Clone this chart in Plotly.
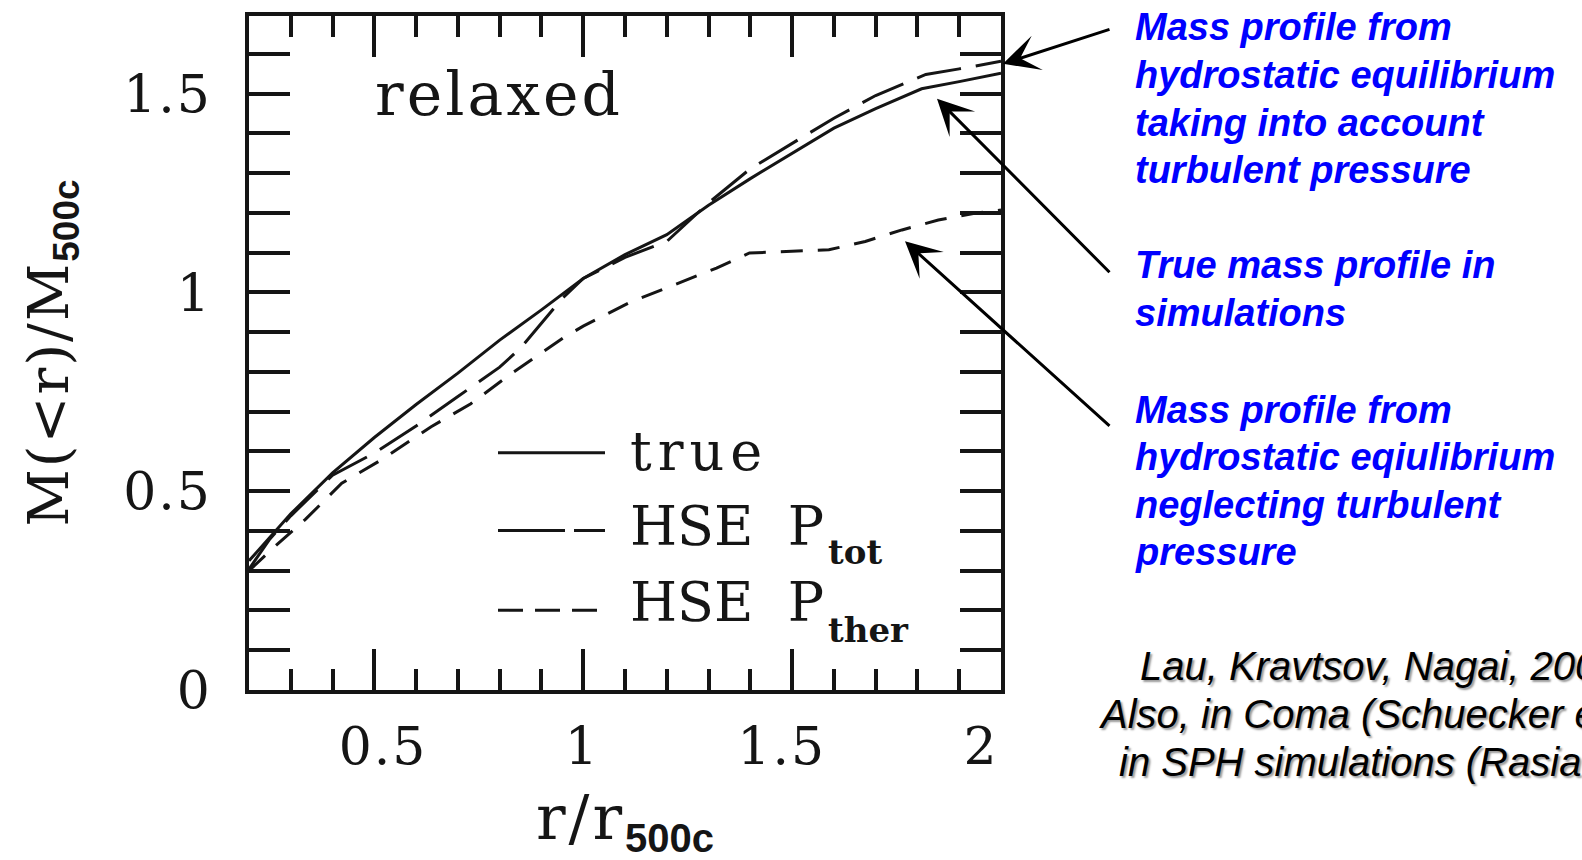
import plotly.graph_objects as go

# ---------------- data ----------------
r_true = [0.2, 0.3, 0.4, 0.5, 0.6, 0.7, 0.8, 0.9, 1.0, 1.1, 1.2, 1.3, 1.4, 1.5, 1.6, 1.7, 1.81, 1.9, 2.0]
m_true = [0.325, 0.443, 0.546, 0.635, 0.718, 0.797, 0.880, 0.956, 1.035, 1.095, 1.145, 1.219, 1.286,
          1.350, 1.413, 1.462, 1.512, 1.530, 1.551]

r_tot = [0.2, 0.25, 0.3, 0.4, 0.5, 0.6, 0.7, 0.8, 0.85, 0.95, 1.0, 1.1, 1.2, 1.27, 1.3, 1.4, 1.5,
         1.6, 1.7, 1.82, 1.9, 2.0]
m_tot = [0.304, 0.380, 0.438, 0.540, 0.596, 0.664, 0.738, 0.812, 0.860, 0.985, 1.035, 1.088, 1.128,
         1.195, 1.225, 1.311, 1.375, 1.438, 1.495, 1.548, 1.562, 1.581]

r_ther = [0.2, 0.263, 0.335, 0.422, 0.517, 0.636, 0.731, 0.827, 0.953, 1.0, 1.112, 1.231, 1.319,
          1.398, 1.493, 1.588, 1.675, 1.763, 1.85, 1.937, 2.0]
m_ther = [0.300, 0.362, 0.429, 0.520, 0.579, 0.662, 0.720, 0.795, 0.886, 0.915, 0.975, 1.024, 1.061,
          1.099, 1.103, 1.107, 1.128, 1.157, 1.182, 1.199, 1.207]

legend_labels = ["true", "HSE  P", "HSE  P"]
legend_subs = ["", "tot", "ther"]
x_ticklabels = ["0.5", "1", "1.5", "2"]
x_tickvals = [0.5, 1, 1.5, 2]
y_tickvals = [0, 0.5, 1, 1.5]
y_ticklabels = ["0", "0.5", "1", "1.5"]

# ---------------- layout geometry ----------------
W, H = 1582, 860
L, R, T, B = 249, 581, 14, 170
PW = W - L - R
PH = H - T - B


def px(xp):
    return (xp - L) / PW


def py(yp):
    return (H - B - yp) / PH


SERIF = "DejaVu Serif"
SANS = "Liberation Sans, Arial, sans-serif"
INK = "#151515"


def spaced(s, sp):
    return "<span style='letter-spacing:%spx'>%s</span>" % (sp, s)


fig = go.Figure()
fig.add_trace(go.Scatter(x=r_true, y=m_true, mode="lines", name="true",
                         line=dict(color=INK, width=3), showlegend=False))
fig.add_trace(go.Scatter(x=r_tot, y=m_tot, mode="lines", name="HSE P_tot",
                         line=dict(color=INK, width=3, dash="45px,15px"), showlegend=False))
fig.add_trace(go.Scatter(x=r_ther, y=m_ther, mode="lines", name="HSE P_ther",
                         line=dict(color=INK, width=3, dash="22px,15px"), showlegend=False))
# empty trace so that the label axis (x2) is drawn
fig.add_trace(go.Scatter(x=[], y=[], xaxis="x2", yaxis="y", showlegend=False, hoverinfo="skip"))

axis_common = dict(showgrid=False, zeroline=False, showline=True, linecolor=INK, linewidth=3.5,
                   mirror="allticks", ticks="inside", ticklen=41, tickwidth=3.5, tickcolor=INK)
minor_common = dict(dtick=0.1, tick0=0, ticks="inside", ticklen=21, tickwidth=3.5, tickcolor=INK)

sub_style = "font-family:Liberation Sans;font-weight:bold;font-size:%dpx"

fig.update_layout(
    width=W, height=H,
    margin=dict(l=L, r=R, t=T, b=B, pad=0),
    paper_bgcolor="white", plot_bgcolor="white",
    showlegend=False,
    xaxis=dict(range=[0.2, 2.0], tick0=0, dtick=0.5, showticklabels=False,
               minor=minor_common, **axis_common),
    xaxis2=dict(overlaying="x", anchor="y", side="bottom", range=[0.1639, 2.050],
                tickvals=x_tickvals, ticktext=[spaced(t, 2) for t in x_ticklabels],
                showline=False, showgrid=False, zeroline=False, ticks="",
                tickfont=dict(family=SERIF, size=52, color=INK), ticklabelstandoff=21,
                title=dict(text=spaced("r/r", 3) + "<sub><span style='" + (sub_style % 40) + "'>500c</span></sub>",
                           font=dict(family=SERIF, size=62, color=INK), standoff=24)),
    yaxis=dict(range=[0, 1.695], tickvals=y_tickvals, ticktext=[spaced(t, 2) for t in y_ticklabels],
               tickfont=dict(family=SERIF, size=52, color=INK), ticklabelstandoff=23,
               minor=minor_common,
               title=dict(text=spaced("M(&lt;r)/M", 2) + "<sub><span style='" + (sub_style % 37) + "'>500c</span></sub>",
                          font=dict(family=SERIF, size=56, color=INK), standoff=38),
               **axis_common),
)

ann = []
# panel label
ann.append(dict(text=spaced("relaxed", 3), xref="paper", yref="paper", x=px(373), y=py(92),
                xanchor="left", yanchor="middle", showarrow=False,
                font=dict(family=SERIF, size=60, color=INK)))

# in-plot legend: samples + labels
leg_y = [452, 530, 610]
leg_dash = ["solid", "67px,9px", "25px,12px"]
for yy, dd in zip(leg_y, leg_dash):
    fig.add_shape(type="line", xref="paper", yref="paper", x0=px(498), x1=px(605), y0=py(yy), y1=py(yy),
                  line=dict(color=INK, width=3, dash=dd))
leg_text_y = [451, 526, 602]
leg_spacing = [6, 0, 0]
for tt, yy, sp in zip(legend_labels, leg_text_y, leg_spacing):
    ann.append(dict(text=spaced(tt.replace("  ", "&nbsp;&nbsp;"), sp), xref="paper", yref="paper",
                    x=px(628), y=py(yy), xanchor="left", yanchor="middle", showarrow=False, align="left",
                    font=dict(family=SERIF, size=54, color=INK)))
sub_y = [None, 552, 630]
for ss, yy in zip(legend_subs, sub_y):
    if ss:
        ann.append(dict(text="<b>" + ss + "</b>", xref="paper", yref="paper", x=px(826), y=py(yy),
                        xanchor="left", yanchor="middle", showarrow=False,
                        font=dict(family=SERIF, size=34, color=INK)))

# blue explanatory texts, one line each
blue = "#0000ff"
blue_lines = [
    ("Mass profile from", 25), ("hydrostatic equilibrium", 73), ("taking into account", 121),
    ("turbulent pressure", 168),
    ("True mass profile in", 264), ("simulations", 312),
    ("Mass profile from", 409), ("hydrostatic eqiulibrium", 456), ("neglecting turbulent", 504),
    ("pressure", 552),
]
for tt, yc in blue_lines:
    ann.append(dict(text="<b><i>" + tt + "</i></b>", xref="paper", yref="paper", x=px(1133), y=py(yc),
                    xanchor="left", yanchor="middle", align="left", showarrow=False,
                    font=dict(family=SANS, size=38, color=blue)))

# arrows (tip, tail) in pixels
arrows = [((1003, 62), (1111, 27)), ((937, 97), (1111, 272)), ((905, 240), (1111, 426))]
for (tx, ty), (sx, sy) in arrows:
    ann.append(dict(text="", xref="paper", yref="paper", x=px(tx), y=py(ty), ax=sx - tx, ay=sy - ty,
                    showarrow=True, arrowhead=3, arrowsize=2.0, arrowwidth=3, arrowcolor="#000000",
                    standoff=0, startstandoff=0))

# citation lines
cite = [("Lau, Kravtsov, Nagai, 2009", 1138, 666),
        ("Also, in Coma (Schuecker et al. 2004)", 1097, 714),
        ("in SPH simulations (Rasia et al. 2006)", 1117, 762)]
for tt, xx, yy in cite:
    ann.append(dict(text="<i>" + tt + "</i>", xref="paper", yref="paper", x=px(xx), y=py(yy),
                    xanchor="left", yanchor="middle", showarrow=False,
                    font=dict(family=SANS, size=40, color="#000000", shadow="2px 2px 2px #9a9a9a")))

fig.update_layout(annotations=ann)
fig.write_html("out.html")
